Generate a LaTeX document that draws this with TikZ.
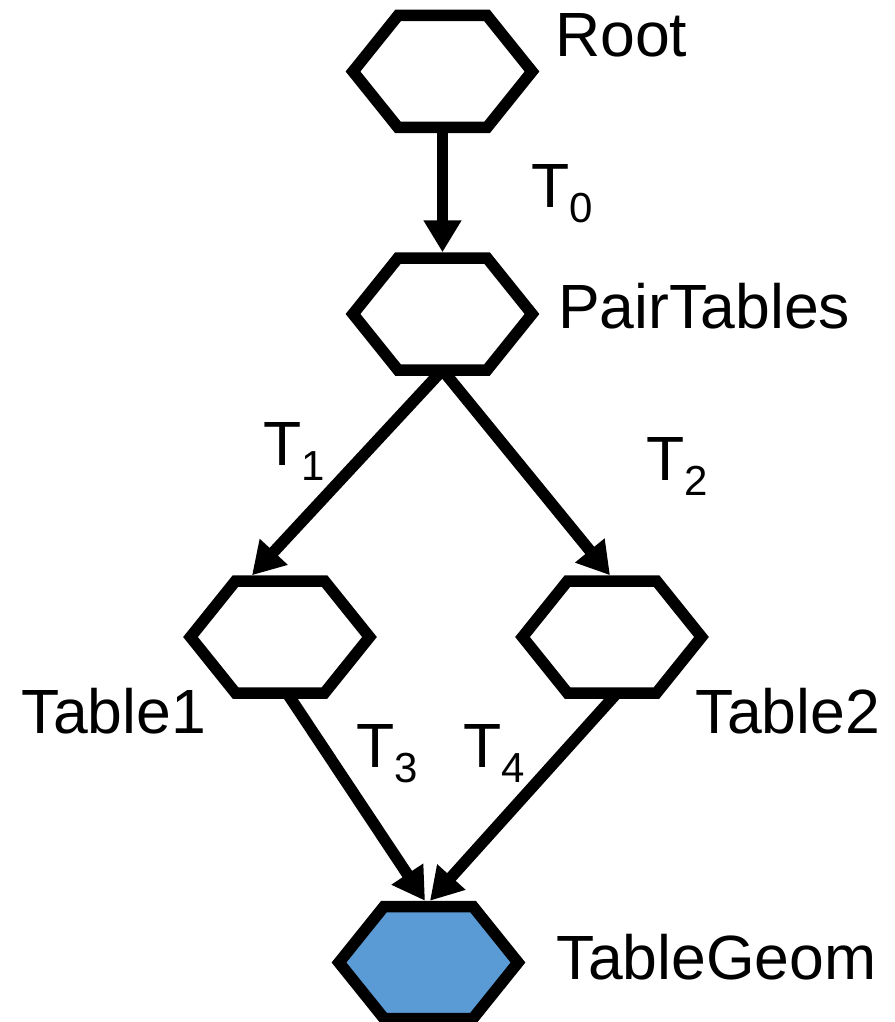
\documentclass[tikz,border=0pt]{standalone}
\usepackage{fontspec}
\setmainfont{Liberation Sans}
\usetikzlibrary{arrows.meta,calc}
\newcommand\subdig[1]{\raisebox{-15.5pt}{\fontsize{42}{46}\selectfont #1}}
\newcommand\hexshape[2][fill=white]{%
  \draw[hexline,#1] ($(#2.center)+(-89.5,0)$) -- ++(45,-56) -- ++(89,0) -- ++(45,56) -- ++(-45,56) -- ++(-89,0) -- cycle;}
\definecolor{geomblue}{HTML}{5B9BD5}
\begin{document}
\begin{tikzpicture}[x=1pt,y=-1pt,
  hexnode/.style={minimum width=179pt,minimum height=112pt,inner sep=0pt,outer sep=0pt},
  hexline/.style={draw=black,line width=11.5pt,line join=miter},
  arr/.style={draw=black,line width=11.5pt,-{Triangle[length=32pt,width=36pt]}},
  lbl/.style={anchor=base west,inner sep=0pt,font=\fontsize{62.5}{70}\selectfont}]
\useasboundingbox (0,0) rectangle (894,1022);
\fill[white] (0,0) rectangle (894,1022);
% invisible hexagon nodes
\node[hexnode] (root) at (442.5,71.5) {};
\node[hexnode] (pair) at (442.5,314) {};
\node[hexnode] (t1) at (280,637) {};
\node[hexnode] (t2) at (612,637) {};
\node[hexnode] (geom) at (428.5,962.5) {};
% connectors
\draw[arr] (root.south) -- ([yshift=5.75pt]pair.north);
\draw[arr] (pair.south) -- ([xshift=-28pt,yshift=5.75pt]t1.north);
\draw[arr] (pair.south) -- ([xshift=-2pt,yshift=5.75pt]t2.north);
\draw[arr] ([xshift=7pt]t1.south) -- ([xshift=-3.5pt,yshift=5.75pt]geom.north);
\draw[arr] ([xshift=5pt]t2.south) -- ([xshift=1.5pt,yshift=5.75pt]geom.north);
% hexagons
\hexshape{root}
\hexshape{pair}
\hexshape{t1}
\hexshape{t2}
\hexshape[fill=geomblue]{geom}
% labels
\node[lbl] (lroot) at (555,57) {Root};
\node[lbl] (lt0) at (531.6,207) {T\subdig{0}};
\node[lbl] (lpair) at (558,328) {PairTables};
\node[lbl] (lt1) at (263.6,465) {T\subdig{1}};
\node[lbl] (lt2) at (646.6,480) {T\subdig{2}};
\node[lbl] (ltab1) at (21.6,733) {Table1};
\node[lbl] (ltab2) at (695.6,733) {Table2};
\node[lbl] (lt3) at (356.6,767) {T\subdig{3}};
\node[lbl] (lt4) at (463.6,767) {T\subdig{4}};
\node[lbl] (lgeom) at (556.6,979) {TableGeom};
\end{tikzpicture}
\end{document}
